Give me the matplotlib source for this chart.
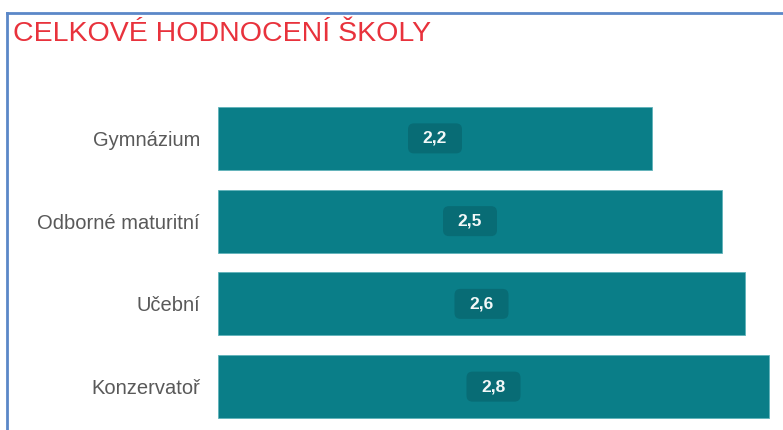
import matplotlib
matplotlib.use("Agg")
import matplotlib.pyplot as plt
from matplotlib.lines import Line2D
from matplotlib.patches import FancyBboxPatch
from matplotlib.transforms import ScaledTranslation

categories = ["Gymnázium", "Odborné maturitní", "Učební", "Konzervatoř"]
values = [2.17, 2.52, 2.635, 2.755]
title = "CELKOVÉ HODNOCENÍ ŠKOLY"

W, H = 783, 430
fig = plt.figure(figsize=(W / 100, H / 100), dpi=100)
fig.patch.set_facecolor("white")

ax_left, ax_right = 218, 783
ax_top, ax_bottom = 97, 428
ax = fig.add_axes([ax_left / W, 1 - ax_bottom / H, (ax_right - ax_left) / W, (ax_bottom - ax_top) / H])

bar_color = "#0a7e88"
ypos = list(range(len(categories)))
ax.barh(ypos, values, height=0.76, color=bar_color, edgecolor="#5fb3ba", linewidth=0.6)
ax.set_xlim(0, (ax_right - ax_left) / 200)
ax.set_ylim(len(categories) - 0.5, -0.5)
ax.set_yticks(ypos)
ax.set_yticklabels(categories, fontsize=14.5, color="#595959", family=["Liberation Sans", "DejaVu Sans"])
ax.tick_params(axis="y", length=0, pad=13)
ax.set_xticks([])
for s in ax.spines.values():
    s.set_visible(False)

bw, bh, r = 0.54, 0.30, 0.06
for y, v in zip(ypos, values):
    label = f"{v:.1f}".replace(".", ",")
    trans = fig.dpi_scale_trans + ScaledTranslation(v / 2, y, ax.transData)
    box = FancyBboxPatch((-bw / 2 + r, -bh / 2 + r), bw - 2 * r, bh - 2 * r,
                         boxstyle=f"round,pad={r},rounding_size={r}",
                         fc="#086c75", ec="none", transform=trans, zorder=3)
    ax.add_artist(box)
    ax.text(v / 2, y, label, ha="center", va="center", fontsize=12.5, color="#f2f8f8",
            fontweight="bold", family=["Liberation Sans", "DejaVu Sans"], zorder=4)

# frame lines
lc = "#5b87c8"
fig.add_artist(Line2D([7 / W, 7 / W], [0, 1 - 13 / H], color=lc, lw=2, transform=fig.transFigure))
fig.add_artist(Line2D([7 / W, 1], [1 - 13 / H, 1 - 13 / H], color=lc, lw=2, transform=fig.transFigure))

fig.text(13 / W, 1 - 34 / H, title, ha="left", va="center", fontsize=20.5, color="#e8323c",
         family=["Liberation Sans", "DejaVu Sans"])

fig.savefig("out.png", dpi=100)
